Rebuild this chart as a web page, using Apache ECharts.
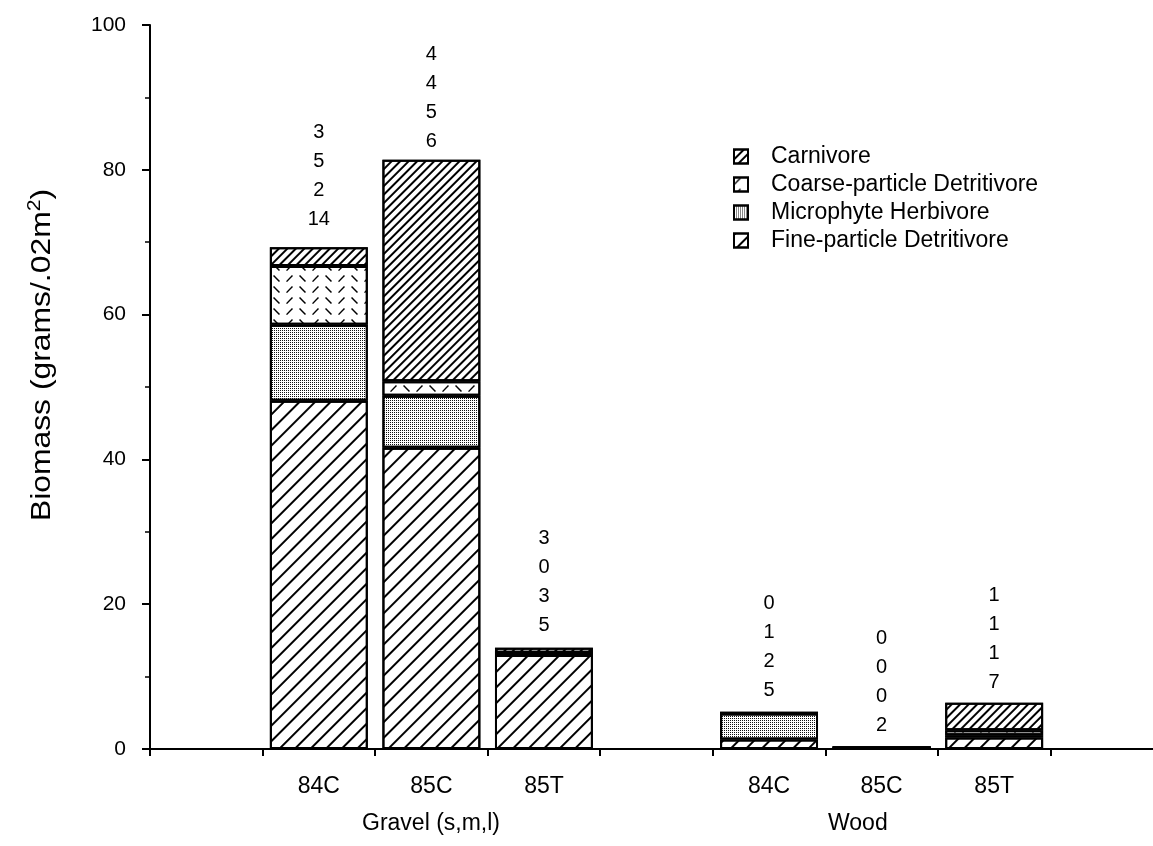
<!DOCTYPE html>
<html>
<head>
<meta charset="utf-8">
<script src="https://cdn.jsdelivr.net/npm/echarts@6/dist/echarts.min.js"></script>
<style>html,body{margin:0;padding:0;background:#fff}#c{width:1153px;height:846px}</style>
</head>
<body>
<div id="c"></div>
<script>
// ---- data ----
const categories = ['', '84C', '85C', '85T', '', '84C', '85C', '85T', ''];
const fineParticle = [null, 48.1, 41.6, 13.0, null, 1.3, 0.2, 1.6, null];
const microphyte   = [null, 10.5, 7.2, 0.3, null, 3.6, 0, 0.3, null];
const coarseParticle = [null, 8.1, 2.0, 0, null, 0.1, 0, 0.7, null];
const carnivore    = [null, 2.6, 30.6, 0.7, null, 0, 0, 3.8, null];
// taxa counts shown above bars (top line to bottom line)
const countCarnivore = [null, 3, 4, 3, null, 0, 0, 1, null];
const countCoarse    = [null, 5, 4, 0, null, 1, 0, 1, null];
const countMicro     = [null, 2, 5, 3, null, 2, 0, 1, null];
const countFine      = [null, 14, 6, 5, null, 5, 2, 7, null];
const groupNames = ['Gravel (s,m,l)', 'Wood'];
const yTicks = [0, 20, 40, 60, 80, 100];

// ---- styles ----
const labelLift = [0, 13, 4, 8, 0, 8, 8, 6, 0];
const FONT = "'Liberation Sans', Arial, Helvetica, sans-serif";

const decalFine = { symbol: 'rect', symbolSize: 1, color: '#000', dashArrayX: [10, 0], dashArrayY: [1.3, 9], rotation: -Math.PI / 4 };
const decalCarn = { symbol: 'rect', symbolSize: 1, color: '#000', dashArrayX: [10, 0], dashArrayY: [1.3, 3.7], rotation: -Math.PI / 4 };
const decalMicro = { symbol: 'rect', symbolSize: 1, color: '#111', dashArrayX: [1, 1], dashArrayY: [1, 1], rotation: 0 };
const decalCoarse = {
  symbol: ['path://M0,9L1.5,10L10,1.5L8.5,0Z', 'path://M0,1.5L1.5,0L10,8.5L8.5,10Z'],
  symbolSize: 1, color: '#000', dashArrayX: [7, 6], dashArrayY: [7, 4], rotation: 0
};

function barSeries(name, data, decal) {
  return {
    name, type: 'bar', stack: 'total', data,
    barWidth: '87%',
    itemStyle: { color: '#fff', borderColor: '#000', borderWidth: 2, decal },
    emphasis: { disabled: true }
  };
}

const labelData = categories.map((c, i) => {
  if (fineParticle[i] === null) return null;
  return {
    value: 0,
    label: {
      show: true, position: 'top', distance: labelLift[i],
      formatter: [countCarnivore[i], countCoarse[i], countMicro[i], countFine[i]].join('\n')
    }
  };
});

const chart = echarts.init(document.getElementById('c'), null, { renderer: 'canvas' });
chart.setOption({
  animation: false,
  backgroundColor: '#fff',
  grid: { left: 150, top: 25, bottom: 97, width: 1013, containLabel: false, outerBoundsMode: 'none' },
  legend: {
    orient: 'vertical', left: 728, top: 140,
    itemWidth: 14, itemHeight: 14, itemGap: 5,
    icon: 'rect',
    data: ['Carnivore', 'Coarse-particle Detritivore', 'Microphyte Herbivore', 'Fine-particle Detritivore'],
    textStyle: { fontSize: 23, color: '#000', fontFamily: FONT, padding: [0, 0, 0, 18] },
    itemStyle: { borderColor: '#000', borderWidth: 2 }
  },
  xAxis: {
    type: 'category', data: categories,
    axisLine: { lineStyle: { color: '#000', width: 2 } },
    axisTick: { show: true, length: 7, interval: 0, lineStyle: { color: '#000', width: 2 } },
    axisLabel: { interval: 0, margin: 26, fontSize: 23, color: '#000', fontFamily: FONT },
    splitLine: { show: false }
  },
  yAxis: {
    type: 'value', min: yTicks[0], max: yTicks[yTicks.length - 1], interval: 20,
    axisLine: { show: true, lineStyle: { color: '#000', width: 2 } },
    axisTick: { show: true, length: 8, lineStyle: { color: '#000', width: 2 } },
    minorTick: { show: true, splitNumber: 2, length: 5, lineStyle: { color: '#000', width: 1.5 } },
    axisLabel: { margin: 24, fontSize: 21, color: '#000', fontFamily: FONT },
    splitLine: { show: false }
  },
  series: [
    barSeries('Fine-particle Detritivore', fineParticle, decalFine),
    barSeries('Microphyte Herbivore', microphyte, decalMicro),
    barSeries('Coarse-particle Detritivore', coarseParticle, decalCoarse),
    barSeries('Carnivore', carnivore, decalCarn),
    {
      name: 'counts', type: 'bar', stack: 'total', data: labelData, barWidth: '87%',
      itemStyle: { color: 'transparent', borderWidth: 0 },
      label: { fontSize: 20, lineHeight: 29, color: '#000', fontFamily: FONT },
      emphasis: { disabled: true }, silent: true
    }
  ],
  graphic: [
    { type: 'text', left: 362, top: 812, style: { text: groupNames[0], fontSize: 23, fill: '#000', fontFamily: FONT } },
    { type: 'text', left: 828, top: 812, style: { text: groupNames[1], fontSize: 23, fill: '#000', fontFamily: FONT } },
    {
      type: 'text', x: 43, y: 355, rotation: Math.PI / 2, scaleX: 1.18, scaleY: 1,
      style: {
        text: '{a|Biomass (grams/.02m}{s|2}{a|)}',
        align: 'center', verticalAlign: 'middle',
        rich: {
          a: { fontSize: 27, fill: '#000', fontFamily: FONT },
          s: { fontSize: 18, fill: '#000', fontFamily: FONT, padding: [0, 0, 15, 0] }
        }
      }
    }
  ]
});
</script>
</body>
</html>
